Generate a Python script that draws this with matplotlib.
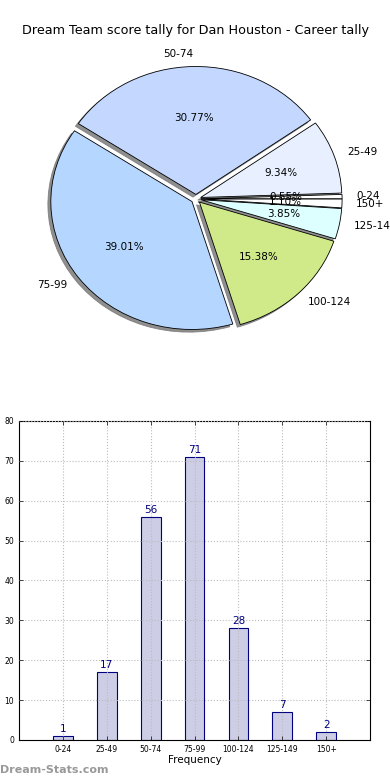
import matplotlib.pyplot as plt

ranges = ['0-24', '25-49', '50-74', '75-99', '100-124', '125-149', '150+']
counts = [1, 17, 56, 71, 28, 7, 2]
pie_colors = ['#ffffff', '#e8f0ff', '#c4d8ff', '#b4d6ff', '#d0ea8a', '#ddffff', '#ffffff']
title = 'Dream Team score tally for Dan Houston - Career tally'

fig = plt.figure(figsize=(3.9, 7.8), dpi=100)

# pie at the top (old-style, not forced round)
ax1 = fig.add_axes([0.05, 0.54, 0.905, 0.41])
wedges, texts, autotexts = ax1.pie(counts, labels=ranges, colors=pie_colors,
                                   explode=[0.035] * len(counts),
                                   shadow={'ox': -0.015, 'oy': -0.015, 'color': '0.45', 'alpha': 0.8},
                                   autopct='%.2f%%', startangle=0,
                                   wedgeprops={'edgecolor': 'black', 'linewidth': 0.6},
                                   textprops={'fontsize': 7.5})
ax1.set_aspect('auto')
ax1.set_xlim(-1.25, 1.25)
ax1.set_ylim(-1.25, 1.25)
fig.text(0.5, 0.961, title, ha='center', va='center', fontsize=9.2)

# bar chart at the bottom, grid drawn over the bars like the old style
ax2 = fig.add_axes([0.049, 0.0513, 0.9, 0.409])
x = list(range(len(ranges)))
bars = ax2.bar(x, counts, width=0.45, color='#cdcee6', edgecolor='#000080', linewidth=0.8)
for xi, c in zip(x, counts):
    ax2.text(xi, c + 0.5, str(c), ha='center', va='bottom', color='#000080', fontsize=7.5)
ax2.set_xlim(-1, 7)
ax2.set_ylim(0, 80)
ax2.set_yticks(range(0, 81, 10))
ax2.set_xticks(x)
ax2.set_xticklabels(ranges)
ax2.tick_params(direction='in', labelsize=5.5, top=True, right=True, length=3, width=0.5)
ax2.set_axisbelow(False)
ax2.grid(True, linestyle=':', color='#bbbbbb', linewidth=0.8)
ax2.set_xlabel('Frequency', fontsize=7.5, labelpad=1)
for s in ax2.spines.values():
    s.set_linewidth(0.8)

fig.text(0.0, 0.013, 'Dream-Stats.com', fontsize=8, fontweight='bold', color='#999999', ha='left', va='center')

plt.savefig('out.png', dpi=100)
